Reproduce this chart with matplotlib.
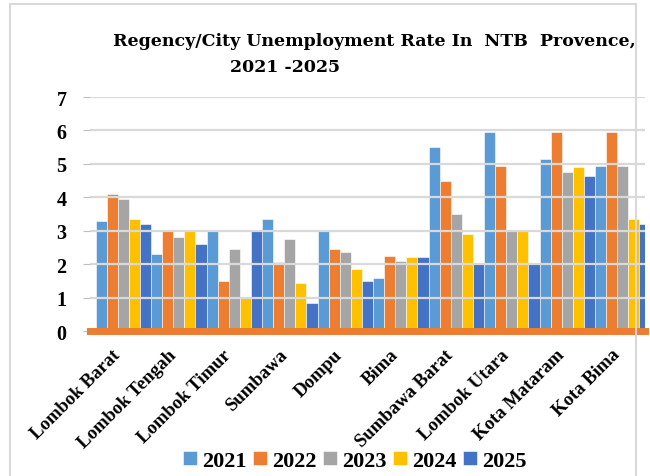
import numpy as np
import matplotlib
matplotlib.use("Agg")
from matplotlib import pyplot as plt
from matplotlib.patches import Rectangle

regions = ["Lombok Barat", "Lombok Tengah", "Lombok Timur", "Sumbawa", "Dompu",
           "Bima", "Sumbawa Barat", "Lombok Utara", "Kota Mataram", "Kota Bima"]
years = ["2021", "2022", "2023", "2024", "2025"]

# values (percent)
rate_2021 = [3.30, 2.30, 3.00, 3.35, 3.00, 1.60, 5.50, 5.95, 5.15, 4.95]
rate_2022 = [4.10, 3.00, 1.50, 2.05, 2.45, 2.25, 4.50, 4.95, 5.95, 5.95]
rate_2023 = [3.95, 2.80, 2.45, 2.75, 2.35, 2.10, 3.50, 3.00, 4.75, 4.95]
rate_2024 = [3.35, 3.00, 1.00, 1.45, 1.85, 2.20, 2.90, 3.00, 4.90, 3.35]
rate_2025 = [3.20, 2.60, 3.00, 0.85, 1.50, 2.20, 2.00, 2.00, 4.65, 3.20]
series = [rate_2021, rate_2022, rate_2023, rate_2024, rate_2025]
colors = ["#5B9BD5", "#ED7D31", "#A5A5A5", "#FFC000", "#4472C4"]

serif = "Liberation Serif"
wide_serif = "DejaVu Serif"

fig = plt.figure(figsize=(6.5, 4.77), dpi=100)
ax = fig.add_axes([90/650, 1-332/477, 555/650, 234/477])

x = np.arange(len(regions))
w = 0.2
for j, vals in enumerate(series):
    ax.bar(x - 0.4 + w/2 + j*w, vals, width=w, color=colors[j],
           edgecolor="white", linewidth=0.4, label=years[j], zorder=2)

ax.set_ylim(0, 7)
ax.set_xlim(-0.5, len(regions) - 0.5)
ax.set_yticks(range(0, 8))
ax.set_yticklabels([str(v) for v in range(0, 8)], fontfamily=serif,
                   fontweight="bold", fontsize=14.5)
ax.tick_params(axis="y", length=5, color="#bfbfbf", pad=12)
ax.grid(axis="y", color="#d9d9d9", linewidth=1.6, zorder=3)
ax.set_axisbelow(False)
ax.axhline(0, color="#ED7D31", linewidth=5, zorder=4, clip_on=False)

ax.set_xticks(x)
ax.set_xticklabels(regions, rotation=45, ha="right", va="center",
                   rotation_mode="anchor", fontfamily=serif,
                   fontweight="bold", fontsize=13.5)
ax.tick_params(axis="x", length=0, pad=15)
for s in ax.spines.values():
    s.set_visible(False)

fig.text(113/650, 1-42/477, "Regency/City Unemployment Rate In  NTB  Provence,",
         fontfamily=wide_serif, fontweight="bold", fontsize=12.5,
         va="center", ha="left")
fig.text(230/650, 1-68/477, "2021 -2025",
         fontfamily=wide_serif, fontweight="bold", fontsize=12.5,
         va="center", ha="left")

fig.legend(loc="center", bbox_to_anchor=(355/650, 1-462/477), ncol=5,
           frameon=False, handlelength=0.6, handleheight=0.6,
           handletextpad=0.25, columnspacing=0.3,
           prop={"family": serif, "weight": "bold", "size": 16})

fig.patches.append(Rectangle((10/650, -0.01), 626/650, 1-5/477 + 0.01,
                             transform=fig.transFigure, fill=False,
                             edgecolor="#d9d9d9", linewidth=1.5, zorder=0))

fig.savefig("out.png", dpi=100)
